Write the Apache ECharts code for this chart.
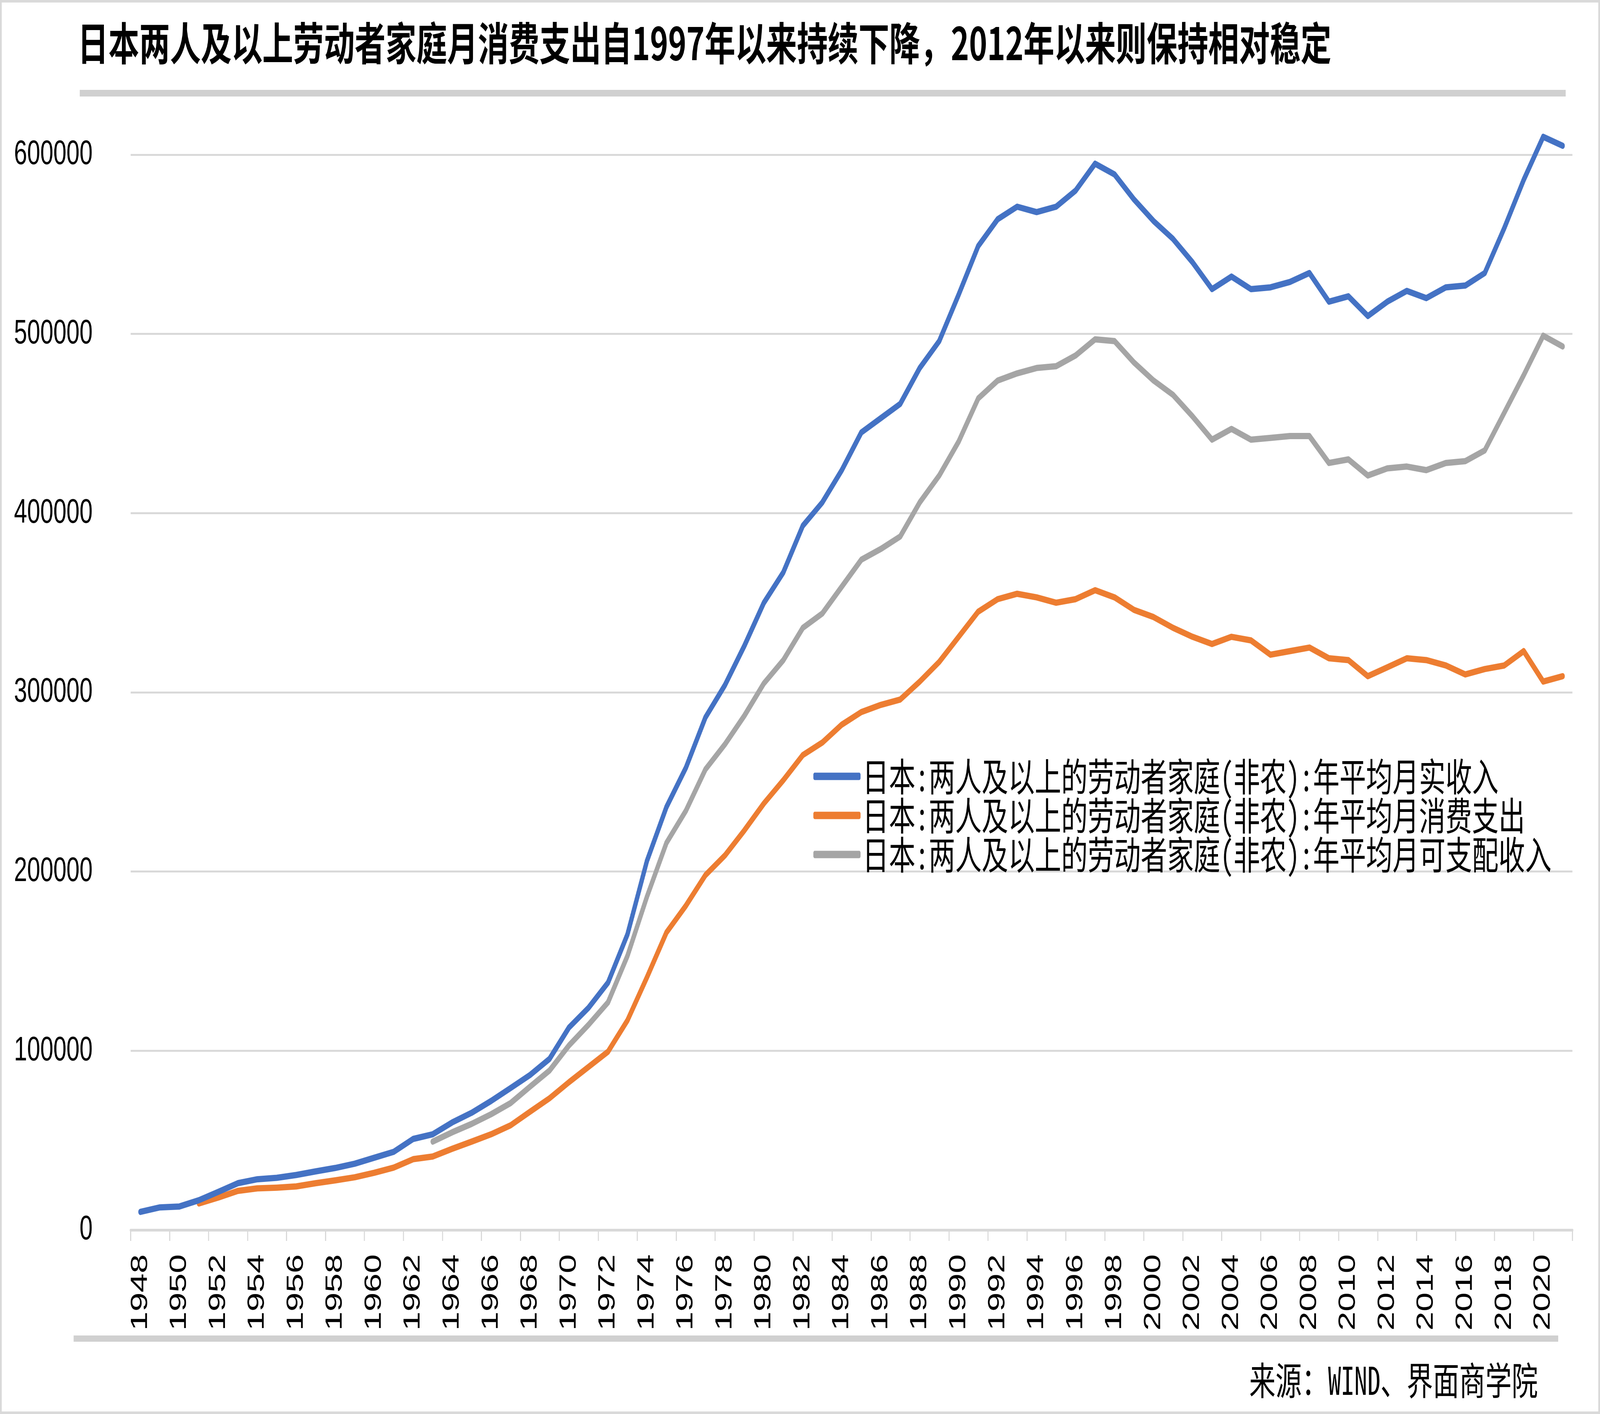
<!DOCTYPE html>
<html>
<head>
<meta charset="utf-8">
<script src="https://cdn.jsdelivr.net/npm/echarts@6/dist/echarts.min.js"></script>
<style>
html,body{margin:0;padding:0;background:#fff;overflow:hidden;}
#chart{position:absolute;left:0;top:0;width:5976px;height:3619px;transform-origin:0 0;}
</style>
</head>
<body>
<div id="chart"></div>
<script>
var years = ['1948','1949','1950','1951','1952','1953','1954','1955','1956','1957',
'1958','1959','1960','1961','1962','1963','1964','1965','1966','1967',
'1968','1969','1970','1971','1972','1973','1974','1975','1976','1977',
'1978','1979','1980','1981','1982','1983','1984','1985','1986','1987',
'1988','1989','1990','1991','1992','1993','1994','1995','1996','1997',
'1998','1999','2000','2001','2002','2003','2004','2005','2006','2007',
'2008','2009','2010','2011','2012','2013','2014','2015','2016','2017',
'2018','2019','2020','2021'];

var income = [10100,12600,13100,16600,21300,26100,28300,29100,30700,32700,
34600,37000,40300,43600,50800,53400,60000,65400,72000,79200,
86500,95500,113000,124000,138000,165000,206000,236000,258000,286000,
304000,326000,350000,367000,393000,406000,424000,445000,453000,461000,
481000,496000,522000,549000,564000,571000,568000,571000,580000,595000,
589000,575000,563000,553000,540000,525000,532000,525000,526000,529000,
534000,518000,521000,510000,518000,524000,520000,526000,527000,534000,
559000,586000,610000,605000];

var consumption = [null,null,null,14800,18100,21800,23200,23600,24300,26100,
27700,29400,31900,34800,39500,41000,45300,49300,53400,58400,
66000,73500,82500,91000,99500,117000,141000,166000,181000,198000,
209000,223000,238000,251000,265000,272000,282000,289000,293000,296000,
306000,317000,331000,345000,352000,355000,353000,350000,352000,357000,
353000,346000,342000,336000,331000,327000,331000,329000,321000,323000,
325000,319000,318000,309000,314000,319000,318000,315000,310000,313000,
315000,323000,306000,309000];

var disposable = [null,null,null,null,null,null,null,null,null,null,
null,null,null,null,null,49300,54500,59200,64600,70800,
80000,89000,103000,114500,127000,153000,186000,216000,234000,257000,
271000,287000,305000,318000,336000,344000,359000,374000,380000,387000,
406000,421000,440000,464000,474000,478000,481000,482000,488000,497000,
496000,484000,474000,466000,454000,441000,447000,441000,442000,443000,
443000,428000,430000,421000,425000,426000,424000,428000,429000,435000,
456000,477000,499000,493000];

var yTicks = [0,100000,200000,300000,400000,500000,600000];

var seriesNames = ['日本:两人及以上的劳动者家庭(非农):年平均月实收入',
'日本:两人及以上的劳动者家庭(非农):年平均月消费支出',
'日本:两人及以上的劳动者家庭(非农):年平均月可支配收入'];
var colors = ['#4472C4','#ED7D31','#A5A5A5'];

var titleText = '日本两人及以上劳动者家庭月消费支出自1997年以来持续下降，2012年以来则保持相对稳定';
var sourceText = '来源：WIND、界面商学院';

// The chart is laid out at the reference size (5976 x 3619) and fitted to the visible window.
var el = document.getElementById('chart');
var vw = window.innerWidth || document.documentElement.clientWidth || 5976;
var sx = Math.min(1, vw / 5976);
el.style.transform = 'scale(' + sx + ',1)';

var chart = echarts.init(el, null, {renderer:'canvas', width:5976, height:3619});

var monoCJK = '"Noto Sans Mono CJK SC","Noto Sans CJK SC",sans-serif';

function mkSeries(i, data){
  return {
    name: seriesNames[i], type:'line', data:data, showSymbol:false, symbol:'none',
    connectNulls:false, clip:false, animation:false,
    lineStyle:{color:colors[i], width:16, cap:'round', join:'round'},
    itemStyle:{color:colors[i]}, z: 3 - i
  };
}

var option = {
  backgroundColor:'#ffffff',
  animation:false,
  grid:{left:488, width:5385, top:396, height:2752, containLabel:false},
  legend:{
    data:seriesNames, orient:'vertical', left:3033, top:1932,
    icon:'roundRect', itemWidth:176, itemHeight:19, itemGap:0,
    textStyle:{fontSize:99, lineHeight:100, color:'#000', fontFamily:monoCJK, padding:[0,0,0,2]}
  },
  xAxis:{
    type:'category', data:years, boundaryGap:true,
    axisLine:{show:true, lineStyle:{color:'#d9d9d9', width:7}},
    axisTick:{show:true, interval:1, length:28, lineStyle:{color:'#d9d9d9', width:4}},
    axisLabel:{interval:1, rotate:90, margin:62, fontSize:88, color:'#000', fontFamily:'Liberation Sans'},
    splitLine:{show:false}
  },
  yAxis:{
    type:'value', min:yTicks[0], max:yTicks[yTicks.length-1], interval:100000,
    axisLine:{show:false}, axisTick:{show:false},
    axisLabel:{margin:142, fontSize:88, color:'#000', fontFamily:'Liberation Sans', formatter:function(v){return String(v);}},
    splitLine:{lineStyle:{color:'#d9d9d9', width:5}}
  },
  series:[mkSeries(0,income), mkSeries(1,consumption), mkSeries(2,disposable)],
  graphic:[
    {type:'rect', shape:{x:3, y:3, width:5970, height:3613}, style:{fill:'none', stroke:'#d9d9d9', lineWidth:7}, silent:true},
    {type:'text', x:290, y:110, style:{text:titleText, fontSize:115, fontWeight:'bold', fontFamily:'Noto Sans CJK SC', fill:'#000', textVerticalAlign:'middle'}},
    {type:'rect', shape:{x:298, y:230, width:5550, height:17}, style:{fill:'#d0d0d0'}, silent:true},
    {type:'rect', shape:{x:275, y:3418, width:5545, height:16}, style:{fill:'#d0d0d0'}, silent:true},
    {type:'text', x:5744, y:3533, style:{text:sourceText, fontSize:98, fontFamily:monoCJK, fill:'#000', textAlign:'right', textVerticalAlign:'middle'}}
  ]
};
chart.setOption(option);
</script>
</body>
</html>
